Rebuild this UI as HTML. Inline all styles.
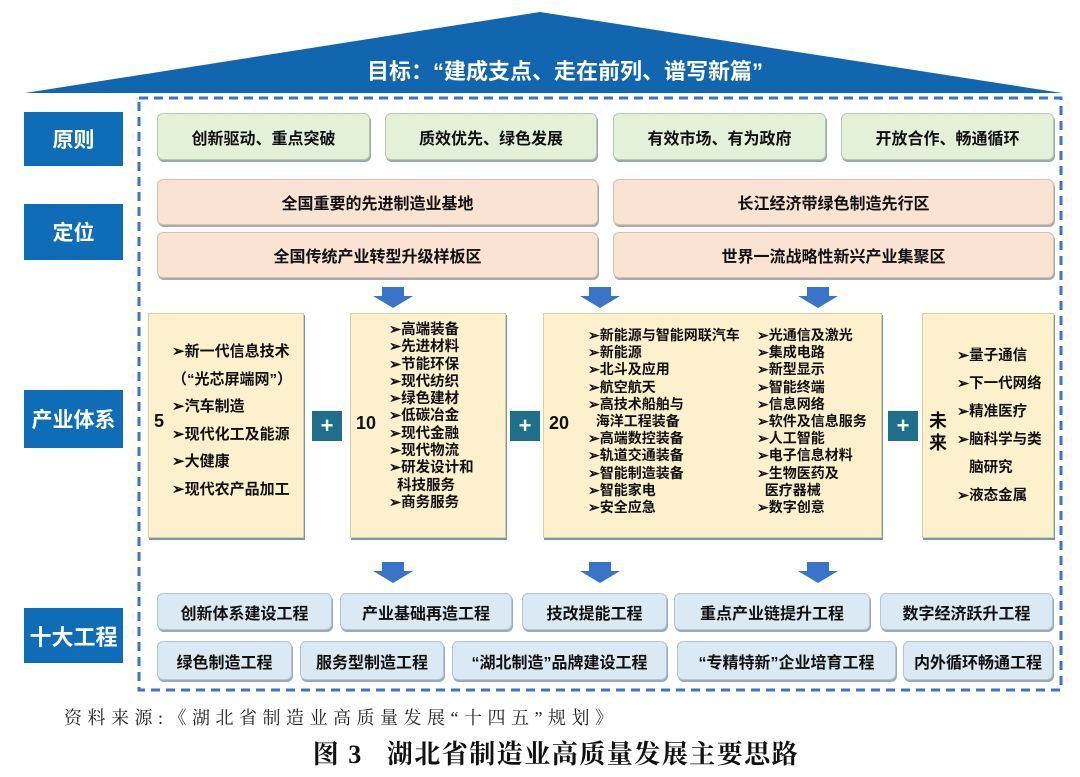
<!DOCTYPE html>
<html><head><meta charset="utf-8"><style>
body{margin:0;width:1080px;height:777px;background:#fff;position:relative;overflow:hidden;font-family:"Liberation Sans","Noto Sans CJK SC",sans-serif;}
.a{position:absolute;box-sizing:border-box;}
.b{position:absolute;box-sizing:border-box;display:flex;align-items:center;justify-content:center;font-weight:bold;color:#111;font-size:16px;border-radius:6px;}
.lab{background:#0f6db8;color:#fff;font-size:21px;border-radius:0;}
.g{background:#e3f0da;border:1.5px solid #b9c8b0;box-shadow:1px 2px 0 #9aa;}
.p{background:#fbe3d4;border:1.5px solid #d9c0b2;box-shadow:1px 2px 0 #aaa;}
.u{background:#dbe9f4;border:1.5px solid #b4c4d2;box-shadow:1px 2px 0 #9ab;}
.y{position:absolute;box-sizing:border-box;background:#fdf0cc;border:1px solid #d8cfa8;box-shadow:1px 2px 0 #7a97b0;font-weight:bold;color:#111;}
.pl{position:absolute;width:30px;height:30px;background:#1f6e8c;color:#fff;font-size:22px;font-weight:bold;display:flex;align-items:center;justify-content:center;}
.t{position:absolute;font-weight:bold;font-size:14px;color:#111;white-space:nowrap;}
</style></head><body>
<svg class="a" style="left:0;top:0" width="1080" height="777">
<polygon points="25,93 540,12 1062,93" fill="#1266b0"/>
<rect x="139" y="98" width="922" height="592" fill="none" stroke="#3f74c6" stroke-width="3" stroke-dasharray="9,6"/>
<g fill="#3a74c8">
<polygon points="382,287 404,287 404,296 413,296 393,308 373,296 382,296"/>
<polygon points="589,287 611,287 611,296 620,296 600,308 580,296 589,296"/>
<polygon points="807,287 829,287 829,296 838,296 818,308 798,296 807,296"/>
<polygon points="382,562 404,562 404,571 413,571 393,583 373,571 382,571"/>
<polygon points="589,562 611,562 611,571 620,571 600,583 580,571 589,571"/>
<polygon points="807,562 829,562 829,571 838,571 818,583 798,571 807,571"/>
</g>
</svg>
<div class="a" style="left:290px;top:54px;width:550px;text-align:center;color:#fff;font-size:22px;font-weight:bold;">目标：“建成支点、走在前列、谱写新篇”</div>

<div class="b lab" style="left:24px;top:112px;width:99px;height:54px;">原则</div>
<div class="b lab" style="left:24px;top:204px;width:99px;height:56px;">定位</div>
<div class="b lab" style="left:24px;top:390px;width:99px;height:58px;">产业体系</div>
<div class="b lab" style="left:24px;top:608px;width:99px;height:55px;font-size:22px;">十大工程</div>

<div class="b g" style="left:157px;top:113px;width:213px;height:47px;">创新驱动、重点突破</div>
<div class="b g" style="left:385px;top:113px;width:212px;height:47px;">质效优先、绿色发展</div>
<div class="b g" style="left:613px;top:113px;width:213px;height:47px;">有效市场、有为政府</div>
<div class="b g" style="left:841px;top:113px;width:213px;height:47px;">开放合作、畅通循环</div>

<div class="b p" style="left:157px;top:179px;width:441px;height:46px;">全国重要的先进制造业基地</div>
<div class="b p" style="left:613px;top:179px;width:441px;height:46px;">长江经济带绿色制造先行区</div>
<div class="b p" style="left:157px;top:232px;width:441px;height:46px;">全国传统产业转型升级样板区</div>
<div class="b p" style="left:613px;top:232px;width:441px;height:46px;">世界一流战略性新兴产业集聚区</div>

<div class="y" style="left:148px;top:313px;width:156px;height:225px;"></div>
<div class="t" style="left:154px;top:411px;font-size:18px;">5</div>
<div class="t" style="left:172px;top:338px;font-size:15px;line-height:27.5px;">➢新一代信息技术<br>（“光芯屏端网”）<br>➢汽车制造<br>➢现代化工及能源<br>➢大健康<br>➢现代农产品加工</div>

<div class="pl" style="left:312px;top:411px;">+</div>
<div class="y" style="left:350px;top:313px;width:156px;height:225px;"></div>
<div class="t" style="left:356px;top:413px;font-size:18px;">10</div>
<div class="t" style="left:389px;top:322px;line-height:17.3px;font-size:14.5px;">➢高端装备<br>➢先进材料<br>➢节能环保<br>➢现代纺织<br>➢绿色建材<br>➢低碳冶金<br>➢现代金融<br>➢现代物流<br>➢研发设计和<br>&nbsp;&nbsp;科技服务<br>➢商务服务</div>

<div class="pl" style="left:510px;top:411px;">+</div>
<div class="y" style="left:543px;top:313px;width:339px;height:225px;"></div>
<div class="t" style="left:549px;top:413px;font-size:18px;">20</div>
<div class="t" style="left:588px;top:327px;line-height:17.2px;font-size:14px;">➢新能源与智能网联汽车<br>➢新能源<br>➢北斗及应用<br>➢航空航天<br>➢高技术船舶与<br>&nbsp;&nbsp;海洋工程装备<br>➢高端数控装备<br>➢轨道交通装备<br>➢智能制造装备<br>➢智能家电<br>➢安全应急</div>
<div class="t" style="left:757px;top:327px;line-height:17.2px;font-size:14px;">➢光通信及激光<br>➢集成电路<br>➢新型显示<br>➢智能终端<br>➢信息网络<br>➢软件及信息服务<br>➢人工智能<br>➢电子信息材料<br>➢生物医药及<br>&nbsp;&nbsp;医疗器械<br>➢数字创意</div>

<div class="pl" style="left:888px;top:411px;">+</div>
<div class="y" style="left:922px;top:313px;width:132px;height:225px;"></div>
<div class="t" style="left:929px;top:410px;font-size:18px;line-height:22px;">未<br>来</div>
<div class="t" style="left:957px;top:342px;line-height:28px;font-size:14.5px;">➢量子通信<br>➢下一代网络<br>➢精准医疗<br>➢脑科学与类<br>&nbsp;&nbsp;&nbsp;脑研究<br>➢液态金属</div>

<div class="b u" style="left:157px;top:593px;width:175px;height:37px;">创新体系建设工程</div>
<div class="b u" style="left:340px;top:593px;width:172px;height:37px;">产业基础再造工程</div>
<div class="b u" style="left:522px;top:593px;width:145px;height:37px;">技改提能工程</div>
<div class="b u" style="left:674px;top:593px;width:196px;height:37px;">重点产业链提升工程</div>
<div class="b u" style="left:880px;top:593px;width:173px;height:37px;">数字经济跃升工程</div>
<div class="b u" style="left:157px;top:641px;width:135px;height:39px;">绿色制造工程</div>
<div class="b u" style="left:300px;top:641px;width:144px;height:39px;">服务型制造工程</div>
<div class="b u" style="left:452px;top:641px;width:215px;height:39px;">“湖北制造”品牌建设工程</div>
<div class="b u" style="left:677px;top:641px;width:219px;height:39px;">“专精特新”企业培育工程</div>
<div class="b u" style="left:903px;top:641px;width:150px;height:39px;">内外循环畅通工程</div>

<div class="a" style="left:64px;top:704px;font-family:'Liberation Serif','Noto Serif CJK SC',serif;font-size:18px;letter-spacing:5.5px;color:#222;white-space:nowrap;">资料来源:《湖北省制造业高质量发展“十四五”规划》</div>
<div class="a" style="left:0;top:734px;width:1112px;text-align:center;font-family:'Liberation Serif','Noto Serif CJK SC',serif;font-size:26px;font-weight:bold;letter-spacing:1.5px;color:#111;">图 3&nbsp;&nbsp;&nbsp;湖北省制造业高质量发展主要思路</div>
</body></html>
